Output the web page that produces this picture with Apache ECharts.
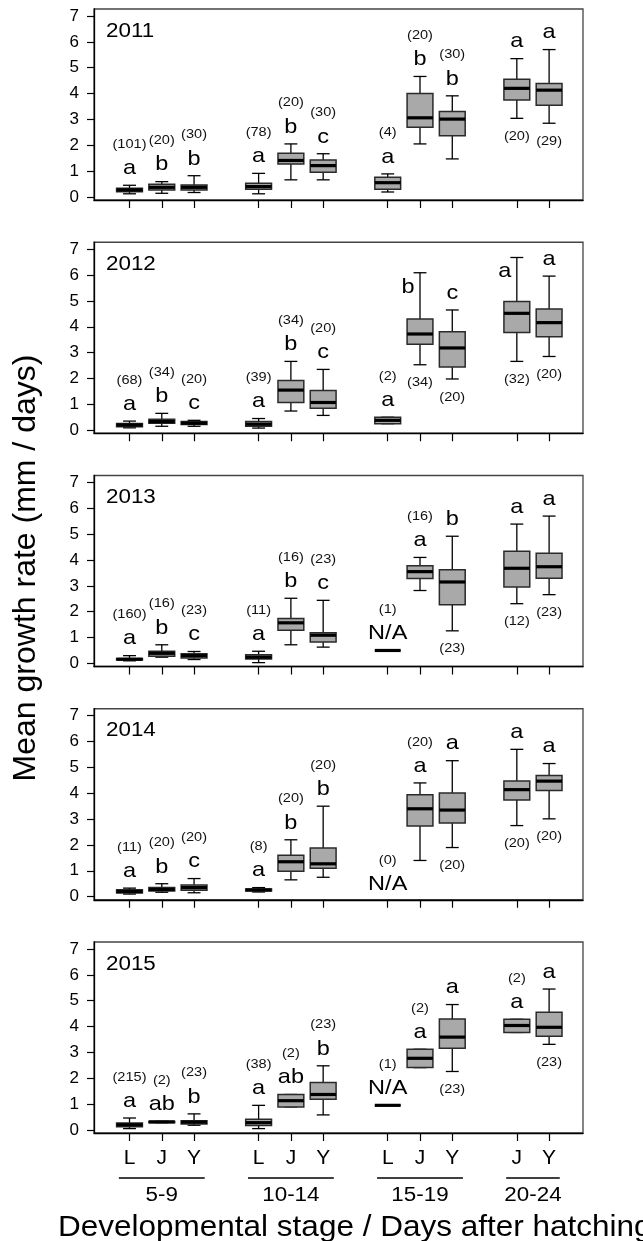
<!DOCTYPE html>
<html>
<head>
<meta charset="utf-8">
<script src="https://cdn.jsdelivr.net/npm/echarts@6/dist/echarts.min.js"></script>
<style>
html,body{margin:0;padding:0;background:#fff;}
#chart{width:643px;height:1241px;}
</style>
</head>
<body>
<div id="chart"></div>
<script>
// ---------- data ----------
const positions = [1, 2, 3, 5, 6, 7, 9, 10, 11, 13, 14];
const stageLabels = ['L', 'J', 'Y', 'L', 'J', 'Y', 'L', 'J', 'Y', 'J', 'Y'];
const groupLabels = ['5-9', '10-14', '15-19', '20-24'];
const groupFirst = [1, 5, 9, 13];
const groupLast = [3, 7, 11, 14];
const years = ['2011', '2012', '2013', '2014', '2015'];
const yTicks = [0, 1, 2, 3, 4, 5, 6, 7];

// [min, Q1, median, Q3, max]
const box2011 = [
  [0.12, 0.20, 0.27, 0.33, 0.45], [0.14, 0.27, 0.37, 0.49, 0.59], [0.17, 0.27, 0.37, 0.46, 0.82],
  [0.12, 0.30, 0.40, 0.53, 0.91], [0.66, 1.27, 1.41, 1.69, 2.05], [0.66, 0.95, 1.21, 1.43, 1.67],
  [0.19, 0.30, 0.55, 0.76, 0.89], [2.05, 2.69, 3.06, 4.00, 4.66], [1.47, 2.37, 3.01, 3.30, 3.91],
  [3.04, 3.75, 4.20, 4.55, 5.35], [2.85, 3.55, 4.13, 4.39, 5.70]
];
const letters2011 = ['a', 'b', 'b', 'a', 'b', 'c', 'a', 'b', 'b', 'a', 'a'];
const counts2011 = [101, 20, 30, 78, 20, 30, 4, 20, 30, 20, 29];
const countSide2011 = ['above', 'above', 'above', 'above', 'above', 'above', 'above', 'above', 'above', 'below', 'below'];

const box2012 = [
  [0.09, 0.13, 0.20, 0.26, 0.35], [0.15, 0.27, 0.33, 0.42, 0.65], [0.15, 0.22, 0.27, 0.33, 0.38],
  [0.08, 0.15, 0.23, 0.33, 0.45], [0.74, 1.07, 1.55, 1.92, 2.66], [0.57, 0.85, 1.07, 1.53, 2.35],
  [0.25, 0.25, 0.38, 0.50, 0.50], [2.53, 3.32, 3.72, 4.30, 6.09], [1.98, 2.44, 3.18, 3.81, 4.65],
  [2.66, 3.78, 4.52, 4.98, 6.68], [2.85, 3.61, 4.16, 4.69, 5.96]
];
const letters2012 = ['a', 'b', 'c', 'a', 'b', 'c', 'a', 'b', 'c', 'a', 'a'];
const counts2012 = [68, 34, 20, 39, 34, 20, 2, 34, 20, 32, 20];
const countSide2012 = ['above', 'above', 'above', 'above', 'above', 'above', 'above', 'below', 'below', 'below', 'below'];

const box2013 = [
  [0.10, 0.13, 0.16, 0.19, 0.30], [0.24, 0.28, 0.39, 0.47, 0.72], [0.15, 0.21, 0.30, 0.37, 0.46],
  [0.03, 0.17, 0.24, 0.33, 0.47], [0.72, 1.28, 1.57, 1.74, 2.52], [0.63, 0.83, 1.09, 1.19, 2.44],
  [0.50, 0.50, 0.50, 0.50, 0.50], [2.82, 3.28, 3.55, 3.78, 4.10], [1.26, 2.27, 3.15, 3.62, 4.92],
  [2.31, 2.96, 3.68, 4.34, 5.39], [2.66, 3.29, 3.74, 4.26, 5.70]
];
const letters2013 = ['a', 'b', 'c', 'a', 'b', 'c', 'N/A', 'a', 'b', 'a', 'a'];
const counts2013 = [160, 16, 23, 11, 16, 23, 1, 16, 23, 12, 23];
const countSide2013 = ['above', 'above', 'above', 'above', 'above', 'above', 'above', 'above', 'below', 'below', 'below'];

const box2014 = [
  [0.10, 0.14, 0.20, 0.27, 0.33], [0.17, 0.22, 0.28, 0.35, 0.50], [0.15, 0.25, 0.35, 0.45, 0.70],
  [0.18, 0.22, 0.26, 0.30, 0.35], [0.65, 0.98, 1.35, 1.60, 2.20], [0.75, 1.10, 1.27, 1.88, 3.50],
  null, [1.40, 2.73, 3.40, 3.94, 4.40], [1.90, 2.85, 3.35, 4.01, 5.26],
  [2.75, 3.74, 4.14, 4.47, 5.70], [3.01, 4.11, 4.47, 4.69, 5.15]
];
const letters2014 = ['a', 'b', 'c', 'a', 'b', 'b', 'N/A', 'a', 'a', 'a', 'a'];
const counts2014 = [11, 20, 20, 8, 20, 20, 0, 20, 20, 20, 20];
const countSide2014 = ['above', 'above', 'above', 'above', 'above', 'above', 'above', 'above', 'below', 'below', 'below'];

const box2015 = [
  [0.05, 0.12, 0.20, 0.27, 0.46], [0.28, 0.28, 0.31, 0.33, 0.33], [0.18, 0.23, 0.30, 0.35, 0.62],
  [0.05, 0.17, 0.28, 0.41, 0.95], [0.89, 0.89, 1.13, 1.37, 1.37], [0.58, 1.19, 1.37, 1.83, 2.48],
  [0.95, 0.95, 0.95, 0.95, 0.95], [2.41, 2.41, 2.77, 3.12, 3.12], [2.26, 3.16, 3.59, 4.29, 4.85],
  [3.77, 3.77, 4.04, 4.28, 4.28], [3.31, 3.62, 3.97, 4.55, 5.45]
];
const letters2015 = ['a', 'ab', 'b', 'a', 'ab', 'b', 'N/A', 'a', 'a', 'a', 'a'];
const counts2015 = [215, 2, 23, 38, 2, 23, 1, 2, 23, 2, 23];
const countSide2015 = ['above', 'above', 'above', 'above', 'above', 'above', 'above', 'above', 'below', 'above', 'below'];

// ---------- layout / style ----------
const FONT = "'Liberation Sans', Arial, Helvetica, sans-serif";
const GRID_LEFT = 94, GRID_RIGHT = 60, GRID_TOP0 = 9, GRID_STEP = 233.25, GRID_H = 191;
const X_MIN = -0.1, X_MAX = 15.05, Y_MIN = -0.12, Y_MAX = 7.27;
const BOX_FILL = '#a9a9a9', BOX_EDGE = '#2a2a2a';
const WIDE = 1.12; // horizontal text stretch seen in the reference

const panels = [
  { year: years[0], box: box2011, letters: letters2011, counts: counts2011, side: countSide2011 },
  { year: years[1], box: box2012, letters: letters2012, counts: counts2012, side: countSide2012 },
  { year: years[2], box: box2013, letters: letters2013, counts: counts2013, side: countSide2013 },
  { year: years[3], box: box2014, letters: letters2014, counts: counts2014, side: countSide2014 },
  { year: years[4], box: box2015, letters: letters2015, counts: counts2015, side: countSide2015 }
];

const chart = echarts.init(document.getElementById('chart'), null, { renderer: 'canvas' });

const grids = [], xAxes = [], yAxes = [], series = [], graphics = [];

panels.forEach((pn, k) => {
  const top = GRID_TOP0 + GRID_STEP * k;
  grids.push({ left: GRID_LEFT, right: GRID_RIGHT, top: top, height: GRID_H,
    show: true, borderColor: '#444', borderWidth: 1.3, backgroundColor: 'transparent' });
  xAxes.push({
    type: 'value', gridIndex: k, min: X_MIN, max: X_MAX,
    axisLine: { show: true, onZero: false, lineStyle: { color: '#000', width: 1.3 } },
    axisTick: { show: true, customValues: positions, length: 8, lineStyle: { color: '#000', width: 1.2 } },
    axisLabel: { show: k === panels.length - 1, customValues: positions,
      formatter: v => stageLabels[positions.indexOf(v)],
      fontSize: 21, fontFamily: FONT, color: '#000', margin: 15 },
    splitLine: { show: false }
  });
  yAxes.push({
    type: 'value', gridIndex: k, min: Y_MIN, max: Y_MAX,
    axisLine: { show: true, onZero: false, lineStyle: { color: '#000', width: 1.3 } },
    axisTick: { show: true, customValues: yTicks, length: 7, lineStyle: { color: '#000', width: 1.2 } },
    axisLabel: { customValues: yTicks, fontSize: 17, fontFamily: FONT, color: '#000', margin: 15 },
    splitLine: { show: false }
  });
  const data = positions.map((p, i) => [p].concat(pn.box[i] || [null, null, null, null, null]));
  series.push({
    type: 'custom', xAxisIndex: k, yAxisIndex: k, clip: false, silent: true,
    encode: { x: 0, y: [1, 2, 3, 4, 5] },
    data: data,
    renderItem: function (params, api) {
      const i = params.dataIndex;
      const x = api.value(0);
      const cs = params.coordSys;
      const kids = [];
      const has = pn.box[i] != null;
      let topPx, botPx;
      const cx = api.coord([x, 0])[0];
      if (has) {
        const pMin = api.coord([x, api.value(1)]);
        const pQ1 = api.coord([x, api.value(2)]);
        const pMed = api.coord([x, api.value(3)]);
        const pQ3 = api.coord([x, api.value(4)]);
        const pMax = api.coord([x, api.value(5)]);
        const bw = api.size([0.8, 0])[0];
        const cw = api.size([0.4, 0])[0];
        const wl = { stroke: '#000', lineWidth: 1.3 };
        kids.push({ type: 'line', shape: { x1: cx, y1: pMax[1], x2: cx, y2: pQ3[1] }, style: wl });
        kids.push({ type: 'line', shape: { x1: cx, y1: pQ1[1], x2: cx, y2: pMin[1] }, style: wl });
        kids.push({ type: 'line', shape: { x1: cx - cw / 2, y1: pMax[1], x2: cx + cw / 2, y2: pMax[1] }, style: wl });
        kids.push({ type: 'line', shape: { x1: cx - cw / 2, y1: pMin[1], x2: cx + cw / 2, y2: pMin[1] }, style: wl });
        kids.push({ type: 'rect', shape: { x: cx - bw / 2, y: pQ3[1], width: bw, height: pQ1[1] - pQ3[1] },
          style: { fill: BOX_FILL, stroke: BOX_EDGE, lineWidth: 1.5 } });
        kids.push({ type: 'line', shape: { x1: cx - bw / 2, y1: pMed[1], x2: cx + bw / 2, y2: pMed[1] },
          style: { stroke: '#000', lineWidth: 3.2 } });
        topPx = pMax[1]; botPx = pMin[1];
      } else {
        topPx = api.coord([x, 0])[1] + 5; botPx = topPx;
      }
      let lx = cx, ly = topPx - 17;
      if (ly < cs.y + 14) { lx = cx - 12; ly = topPx + 14; }
      kids.push({ type: 'text', x: lx, y: ly, scaleX: WIDE, style: { text: pn.letters[i], fill: '#000',
        fontSize: 21, fontFamily: FONT, align: 'center', verticalAlign: 'middle' } });
      const cy = pn.side[i] === 'below' ? botPx + 18 : ly - 24;
      kids.push({ type: 'text', x: cx, y: cy, scaleX: WIDE, style: { text: '(' + pn.counts[i] + ')', fill: '#111',
        fontSize: 13, fontFamily: FONT, align: 'center', verticalAlign: 'middle' } });
      return { type: 'group', children: kids };
    }
  });
  graphics.push({ type: 'text', x: GRID_LEFT + 12, y: top + 22, scaleX: WIDE, silent: true,
    style: { text: pn.year, fontSize: 20, fontFamily: FONT, fill: '#000', align: 'left', verticalAlign: 'middle' } });
});

// group-label row
const gk = panels.length;
grids.push({ left: GRID_LEFT, right: GRID_RIGHT, top: 1170, height: 30, show: false });
xAxes.push({ type: 'value', gridIndex: gk, min: X_MIN, max: X_MAX, show: false });
yAxes.push({ type: 'value', gridIndex: gk, min: 0, max: 1, show: false });
series.push({
  type: 'custom', xAxisIndex: gk, yAxisIndex: gk, clip: false, silent: true,
  encode: { x: [0, 1] },
  data: groupLabels.map((g, i) => [groupFirst[i], groupLast[i]]),
  renderItem: function (params, api) {
    const cs = params.coordSys;
    const a = api.coord([api.value(0) - 0.33, 0])[0];
    const b = api.coord([api.value(1) + 0.33, 0])[0];
    return { type: 'group', children: [
      { type: 'line', shape: { x1: a, y1: cs.y + 8, x2: b, y2: cs.y + 8 }, style: { stroke: '#000', lineWidth: 1.3 } },
      { type: 'text', x: (a + b) / 2, y: cs.y + 25, scaleX: WIDE, style: { text: groupLabels[params.dataIndex], fill: '#000',
        fontSize: 20, fontFamily: FONT, align: 'center', verticalAlign: 'middle' } }
    ] };
  }
});

graphics.push({ type: 'text', x: 26, y: 568, rotation: Math.PI / 2, silent: true,
  style: { text: 'Mean growth rate (mm / days)', fontSize: 32, fontFamily: FONT, fill: '#000',
    align: 'center', verticalAlign: 'middle' } });
graphics.push({ type: 'text', x: 58, y: 1228, scaleX: 1.05, silent: true,
  style: { text: 'Developmental stage / Days after hatching', fontSize: 30, fontFamily: FONT, fill: '#000',
    align: 'left', verticalAlign: 'middle' } });

chart.setOption({
  animation: false,
  backgroundColor: '#fff',
  grid: grids, xAxis: xAxes, yAxis: yAxes, series: series, graphic: graphics
});
</script>
</body>
</html>
